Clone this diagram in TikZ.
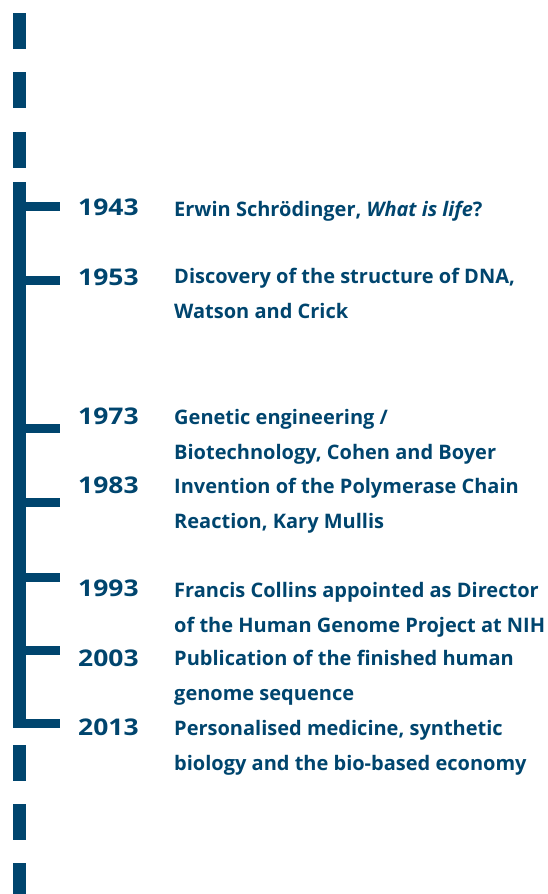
\documentclass[tikz,border=0pt]{standalone}
\usepackage{fontspec}
\setmainfont{Open Sans}
\newfontfamily\yearfont{Open Sans}[FakeStretch=1.15]
\usetikzlibrary{positioning}
\definecolor{timeblue}{RGB}{0,69,110}
\tikzstyle{spine} = [fill=timeblue]
\tikzstyle{year} = [anchor=base west, inner sep=0pt, text=timeblue, font=\yearfont\bfseries\fontsize{23}{28}\selectfont]
\tikzstyle{event} = [anchor=base west, inner sep=0pt, text=timeblue, align=left, font=\bfseries\fontsize{20}{34.7}\selectfont]

\begin{document}
\begin{tikzpicture}[x=1pt, y=-1pt]

  \useasboundingbox (0,0) rectangle (547,894);

  % We start by drawing the broken line above and below
  \foreach \top in {13,72,132,745,804}
    \fill[spine] (13,\top) rectangle (26,\top+36);
  \fill[spine] (13,863) rectangle (26,894);

  % the time line itself with its ticks
  \fill[spine] (13,182) rectangle (26,728);
  \foreach \y in {206,280,428,502,577,650}
    \fill[spine] (26,\y-4.5) rectangle (60,\y+4.5);
  \fill[spine] (26,719) rectangle (60,728);

  % years
  \node[year] (y1943) at (78,215) {1943};
  \node[year] (y1953) at (78,285) {1953};
  \node[year] (y1973) at (78,424) {1973};
  \node[year] (y1983) at (78,493) {1983};
  \node[year] (y1993) at (78,596) {1993};
  \node[year] (y2003) at (78,666) {2003};
  \node[year] (y2013) at (78,735) {2013};

  % what happened (base is on the last line of a node)
  \node[event] (e1943) at (174,216) {Erwin Schrödinger, \textit{What is life}?};
  \node[event] (e1953) at (174,318) {Discovery of the structure of DNA,\\Watson and Crick};
  \node[event] (e1973) at (174,459) {Genetic engineering /\\Biotechnology, Cohen and Boyer};
  \node[event] (e1983) at (174,528) {Invention of the Polymerase Chain\\Reaction, Kary Mullis};
  \node[event] (e1993) at (174,632) {Francis Collins appointed as Director\\of the Human Genome Project at NIH};
  \node[event] (e2003) at (174,700) {Publication of the finished human\\genome sequence};
  \node[event] (e2013) at (174,770) {Personalised medicine, synthetic\\biology and the bio-based economy};

\end{tikzpicture}
\end{document}
